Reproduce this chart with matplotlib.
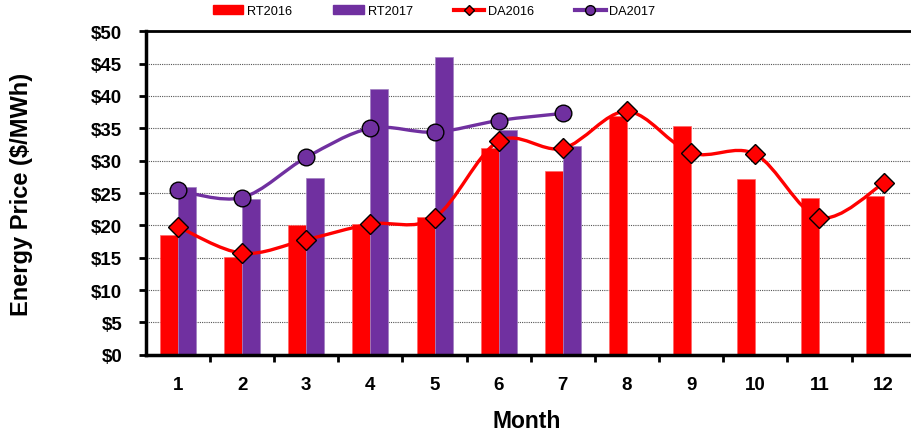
import numpy as np
import matplotlib
matplotlib.use("Agg")
import matplotlib.pyplot as plt
from matplotlib.lines import Line2D
from matplotlib.patches import Patch
from matplotlib.path import Path
from matplotlib.patches import PathPatch

plt.rcParams['font.family'] = ['Liberation Sans', 'DejaVu Sans']

# data
months = [1, 2, 3, 4, 5, 6, 7, 8, 9, 10, 11, 12]
rt2016 = [18.5, 15.1, 20.1, 20.2, 21.3, 32.0, 28.4, 36.9, 35.4, 27.2, 24.3, 24.5]
rt2017 = [25.9, 24.0, 27.3, 41.0, 46.0, 34.8, 32.3]
da2016 = [19.8, 15.7, 17.8, 20.2, 21.2, 33.0, 31.9, 37.6, 31.2, 31.0, 21.2, 26.5]
da2017 = [25.4, 24.3, 30.5, 35.0, 34.4, 36.2, 37.3]

RED = '#FF0000'
PURPLE = '#7030A0'


def smooth_path(xs, ys):
    """Excel-like smoothed line: cubic bezier through the points."""
    pts = np.column_stack([xs, ys]).astype(float)
    n = len(pts)
    verts = [pts[0]]
    codes = [Path.MOVETO]
    for i in range(n - 1):
        p0 = pts[i - 1] if i > 0 else pts[i]
        p1, p2 = pts[i], pts[i + 1]
        p3 = pts[i + 2] if i + 2 < n else pts[i + 1]
        c1 = p1 + (p2 - p0) / 6.0
        c2 = p2 - (p3 - p1) / 6.0
        verts += [c1, c2, p2]
        codes += [Path.CURVE4] * 3
    return Path(verts, codes)


fig = plt.figure(figsize=(9.12, 4.35), dpi=100)
ax = fig.add_axes([0.160, 0.182, 0.844, 0.744])

w = 0.28
x16 = np.array(months, dtype=float)
x17 = np.array(months[:len(rt2017)], dtype=float)
ax.bar(x16 - w / 2, rt2016, width=w, color=RED, edgecolor='#FF6666', linewidth=0.5, zorder=2)
ax.bar(x17 + w / 2, rt2017, width=w, color=PURPLE, edgecolor='#A080C0', linewidth=0.5, zorder=2)

ax.add_patch(PathPatch(smooth_path(x16, da2016), facecolor='none', edgecolor=RED,
                       lw=2.4, zorder=3, capstyle='round'))
ax.add_patch(PathPatch(smooth_path(x17, da2017), facecolor='none', edgecolor=PURPLE,
                       lw=2.4, zorder=3, capstyle='round'))
ax.plot(x16, da2016, linestyle='none', marker='D', markersize=10, markerfacecolor=RED,
        markeredgecolor='black', markeredgewidth=1.0, zorder=4)
ax.plot(x17, da2017, linestyle='none', marker='o', markersize=12, markerfacecolor=PURPLE,
        markeredgecolor='black', markeredgewidth=1.0, zorder=4)

ax.set_xlim(0.5, 12.5)
ax.set_ylim(0, 50)
ax.set_yticks(np.arange(0, 51, 5))
ax.yaxis.set_major_formatter(lambda v, pos: f'${v:.0f}')
ax.set_xticks(months)
ax.set_xticks(np.arange(1.5, 12.6, 1), minor=True)
ax.tick_params(axis='x', which='major', length=0, pad=15, labelsize=13.5)
ax.tick_params(axis='x', which='minor', length=5, width=2, direction='out')
ax.tick_params(axis='y', length=5, width=2, direction='out', pad=12, labelsize=13.5)
for lab in ax.get_xticklabels() + ax.get_yticklabels():
    lab.set_fontweight('bold')

ax.yaxis.grid(True, linestyle=(0, (1, 1)), color='#555555', linewidth=0.8, zorder=0)
ax.set_axisbelow(True)
for s in ['left', 'bottom']:
    ax.spines[s].set_linewidth(2.5)
ax.spines['top'].set_linewidth(2.0)
ax.spines['right'].set_visible(False)

ax.set_xlabel('Month', fontsize=16.5, fontweight='bold')
ax.xaxis.set_label_coords(0.495, -0.168)
ax.set_ylabel('Energy Price ($/MWh)', fontsize=17, fontweight='bold')
ax.yaxis.set_label_coords(-0.147, 0.5)

handles = [
    Patch(facecolor=RED, edgecolor=RED),
    Patch(facecolor=PURPLE, edgecolor=PURPLE),
    Line2D([0], [0], color=RED, lw=3, marker='D', markersize=5,
           markerfacecolor=RED, markeredgecolor='black'),
    Line2D([0], [0], color=PURPLE, lw=3, marker='o', markersize=7,
           markerfacecolor=PURPLE, markeredgecolor='black'),
]
fig.legend(handles, ['RT2016', 'RT2017', 'DA2016', 'DA2017'], loc='center',
           bbox_to_anchor=(0.476, 0.972), ncol=4, frameon=False, fontsize=9.2,
           handlelength=2.4, handleheight=0.7, handletextpad=0.3, columnspacing=3.2)

fig.savefig('out.png', dpi=100)
